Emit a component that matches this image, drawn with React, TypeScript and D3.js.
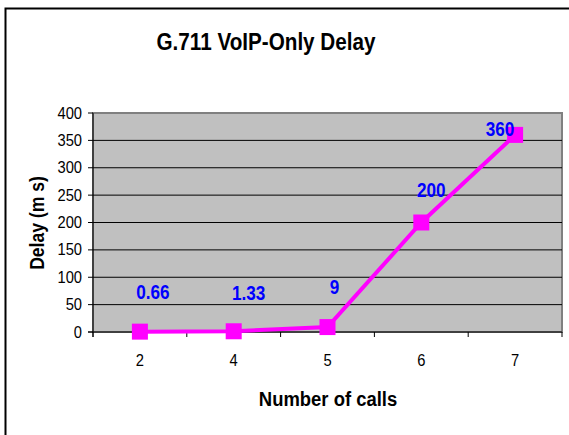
import React from "react";
import * as d3 from "d3";

const categories = ["2", "4", "5", "6", "7"];
const delays = [0.66, 1.33, 9, 200, 360];
const labelTexts = ["0.66", "1.33", "9", "200", "360"];
const yTicks = [0, 50, 100, 150, 200, 250, 300, 350, 400];
// label placement offsets (style), relative to each point
const labelDx = [13, 15, 7, 10, -15];
const labelDy = [-33, -31, -33, -26, 1];

const W = 569;
const H = 435;
const plot = { left: 93, right: 562, top: 113, bottom: 332 };
const font = "'Liberation Sans', Arial, sans-serif";

function T(props: { x: number; y: number; size: number; sx?: number; bold?: boolean; anchor?: string; fill?: string; rotate?: number; children: React.ReactNode }) {
  const { x, y, size, sx = 0.9, bold, anchor = "middle", fill = "#000", rotate = 0, children } = props;
  return (
    <text
      transform={`translate(${x},${y}) rotate(${rotate}) scale(${sx},1)`}
      textAnchor={anchor}
      fontSize={size}
      fontWeight={bold ? "bold" : "normal"}
      fill={fill}
    >
      {children}
    </text>
  );
}

export default function App() {
  const x = d3.scaleBand<string>().domain(categories).range([plot.left, plot.right]);
  const y = d3.scaleLinear().domain([0, 400]).range([plot.bottom, plot.top]);
  const cx = (c: string) => (x(c) as number) + x.bandwidth() / 2;
  const line = d3
    .line<number>()
    .x((_, i) => cx(categories[i]))
    .y((d) => y(d));
  const boundaries = categories.map((c) => x(c) as number).concat([plot.right]);
  const ms = 16;

  return (
    <svg width={W} height={H} style={{ position: "absolute", left: 0, top: 0, background: "#fff" }} fontFamily={font}>
      <rect x={0} y={0} width={W} height={H} fill="#fff" />
      <rect x={5.5} y={8.5} width={700} height={600} fill="none" stroke="#000" strokeWidth={2} />
      <T x={266} y={50} size={23.5} sx={0.88} bold>
        G.711 VoIP-Only Delay
      </T>
      <rect x={plot.left} y={plot.top} width={plot.right - plot.left} height={plot.bottom - plot.top} fill="#C0C0C0" stroke="#808080" strokeWidth={2} />
      {yTicks.filter((t) => t > 0 && t < 400).map((t) => (
        <line key={t} x1={plot.left} x2={plot.right} y1={y(t)} y2={y(t)} stroke="#000" strokeWidth={1} />
      ))}
      {/* y axis */}
      <line x1={plot.left} x2={plot.left} y1={plot.top} y2={plot.bottom + 5} stroke="#000" strokeWidth={1} />
      {yTicks.map((t) => (
        <g key={t}>
          <line x1={plot.left - 5} x2={plot.left} y1={y(t)} y2={y(t)} stroke="#000" />
          <T x={82} y={y(t) + 5.5} size={16} sx={0.92} anchor="end">
            {t}
          </T>
        </g>
      ))}
      {/* x axis */}
      <line x1={plot.left - 5} x2={plot.right} y1={plot.bottom} y2={plot.bottom} stroke="#000" strokeWidth={1} />
      {boundaries.map((b, i) => (
        <line key={i} x1={b} x2={b} y1={plot.bottom} y2={plot.bottom + 5} stroke="#000" />
      ))}
      {categories.map((c) => (
        <T key={c} x={cx(c)} y={366} size={16} sx={0.92}>
          {c}
        </T>
      ))}
      <T x={328} y={406} size={20.5} sx={0.9} bold>
        Number of calls
      </T>
      <T x={44} y={223} size={19.5} sx={0.9} bold rotate={-90}>
        Delay (m s)
      </T>
      {/* series */}
      <path d={line(delays) || ""} fill="none" stroke="#FF00FF" strokeWidth={4} />
      {delays.map((v, i) => (
        <rect key={i} x={cx(categories[i]) - ms / 2} y={y(v) - ms / 2} width={ms} height={ms} fill="#FF00FF" />
      ))}
      {delays.map((v, i) => (
        <T key={"l" + i} x={cx(categories[i]) + labelDx[i]} y={y(v) + labelDy[i]} size={19.5} sx={0.88} bold fill="#0000FF">
          {labelTexts[i]}
        </T>
      ))}
    </svg>
  );
}
